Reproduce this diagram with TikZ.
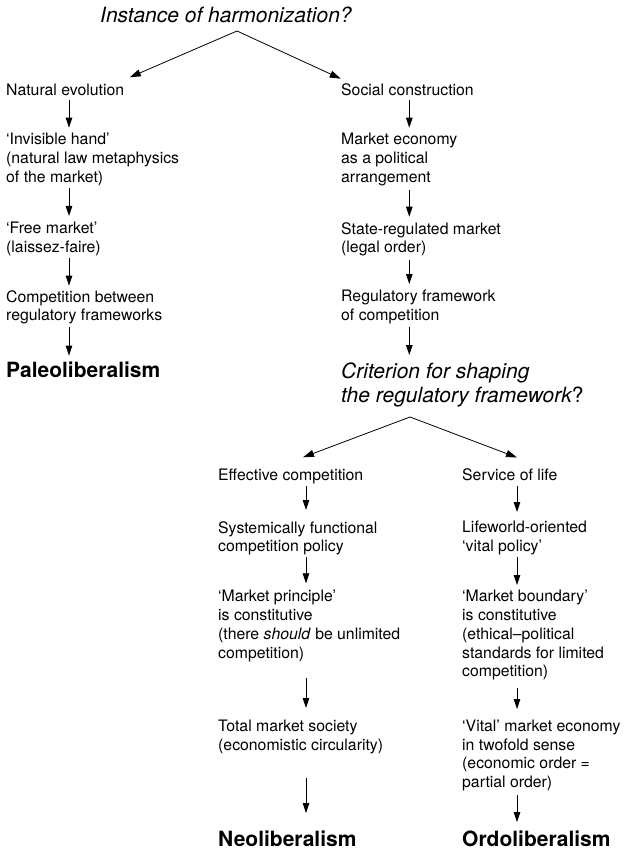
\documentclass[tikz,border=0pt]{standalone}
\usepackage{fontspec}
\setmainfont{TeX Gyre Heros}
\usetikzlibrary{arrows.meta,calc}
\newcommand\mystrut{\rule[-4pt]{0pt}{16pt}}
\begin{document}
\begin{tikzpicture}[x=1pt,y=-1pt,
  txt/.style={anchor=north west, align=left, inner sep=0pt, font=\fontsize{15.8}{18.8}\selectfont, execute at begin node=\mystrut, execute at end node=\mystrut},
  big/.style={anchor=base west, align=left, inner sep=0pt, font=\fontsize{21}{24}\selectfont\bfseries},
  ital/.style={anchor=north west, align=left, inner sep=0pt, font=\fontsize{21}{24}\selectfont\itshape},
  varr/.style={draw=black, line width=0.8pt, -{Triangle[length=10pt,width=6.5pt]}},
  darr/.style={draw=black, line width=0.8pt, -{Triangle[length=11pt,width=7pt]}},
]
\useasboundingbox (0,0) rectangle (625,850);

\node[ital, anchor=base west] (title) at (100,22.5) {Instance of harmonization?};

% top of first line = baseline - 12
\node[txt] (ne) at (6,83.5) {Natural evolution};
\node[txt] (ih) at (6,133) {‘Invisible hand’\\(natural law metaphysics\\of the market)};
\node[txt] (fm) at (6,222) {‘Free market’\\(laissez-faire)};
\node[txt] (cb) at (6,290) {Competition between\\regulatory frameworks};
\node[big] (paleo) at (6,377.5) {Paleoliberalism};

\node[txt] (sc) at (341,83.5) {Social construction};
\node[txt] (me) at (341,133) {Market economy\\as a political\\arrangement};
\node[txt] (sr) at (341,222) {State-regulated market\\(legal order)};
\node[txt] (rf) at (341,290) {Regulatory framework\\of competition};
\node[ital] (crit) at (341,362.2) {Criterion for shaping\\the regulatory framework{\upshape ?}};

\node[txt] (ec) at (218,468.5) {Effective competition};
\node[txt] (sf) at (218,521) {Systemically functional\\competition policy};
\node[txt] (mp) at (218,590) {‘Market principle’\\is constitutive\\(there \textit{should} be unlimited\\competition)};
\node[txt] (tm) at (218,719.5) {Total market society\\(economistic circularity)};
\node[big] (neo) at (218,846.5) {Neoliberalism};

\node[txt] (sl) at (462,468.5) {Service of life};
\node[txt] (lo) at (462,521) {Lifeworld-oriented\\‘vital policy’};
\node[txt] (mb) at (462,590) {‘Market boundary’\\is constitutive\\(ethical–political\\standards for limited\\competition)};
\node[txt] (vm) at (462,719.5) {‘Vital’ market economy\\in twofold sense\\(economic order =\\partial order)};
\node[big] (ordo) at (462,846.5) {Ordoliberalism};

\coordinate (cL) at (69,0);
\coordinate (cR) at (409.3,0);
\coordinate (cLL) at (306,0);
\coordinate (cLR) at (517,0);
\coordinate (apexA) at (237,31);
\coordinate (apexB) at (410,417);

\draw[darr] (apexA) -- ([shift={(5.5,-6.2)}]ne.north east);
\draw[darr] (apexA) -- ([shift={(-0.3,-4.8)}]sc.north west);
\draw[darr] (apexB) -- ([shift={(85,-11.2)}]ec.north west);
\draw[darr] (apexB) -- ([shift={(55,-11)}]sl.north west);

\draw[varr, shorten <=0.5pt, shorten >=5.3pt] (ne.south -| cL) -- (ih.north -| cL);
\draw[varr, shorten <=1.4pt, shorten >=6pt] (ih.south -| cL) -- (fm.north -| cL);
\draw[varr, shorten <=1.2pt, shorten >=4.3pt] (fm.south -| cL) -- (cb.north -| cL);
\draw[varr, shorten <=2.2pt, shorten >=6pt] (cb.south -| cL) -- (paleo.north -| cL);

\draw[varr, shorten <=0.5pt, shorten >=5.3pt] (sc.south -| cR) -- (me.north -| cR);
\draw[varr, shorten <=3.4pt, shorten >=5.3pt] (me.south -| cR) -- (sr.north -| cR);
\draw[varr, shorten <=3.2pt, shorten >=6pt] (sr.south -| cR) -- (rf.north -| cR);
\draw[varr, shorten <=1.9pt, shorten >=7.2pt] (rf.south -| cR) -- (crit.north -| cR);

\draw[varr, shorten <=1.5pt, shorten >=11pt] (ec.south -| cLL) -- (sf.north -| cLL);
\draw[varr, shorten <=1.2pt, shorten >=6.7pt] (sf.south -| cLL) -- (mp.north -| cLL);
\draw[varr, shorten <=15.6pt, shorten >=11.5pt] (mp.south -| cLL) -- (tm.north -| cLL);
\draw[varr, shorten <=23.7pt, shorten >=17.5pt] (tm.south -| cLL) -- (neo.north -| cLL);

\draw[varr, shorten <=1.5pt, shorten >=9pt] (sl.south -| cLR) -- (lo.north -| cLR);
\draw[varr, shorten <=1.2pt, shorten >=5pt] (lo.south -| cLR) -- (mb.north -| cLR);
\draw[varr, shorten <=6.8pt, shorten >=10.5pt] (mb.south -| cLR) -- (vm.north -| cLR);
\draw[varr, shorten <=3.1pt, shorten >=8.5pt] (vm.south -| cLR) -- (ordo.north -| cLR);
\end{tikzpicture}
\end{document}
